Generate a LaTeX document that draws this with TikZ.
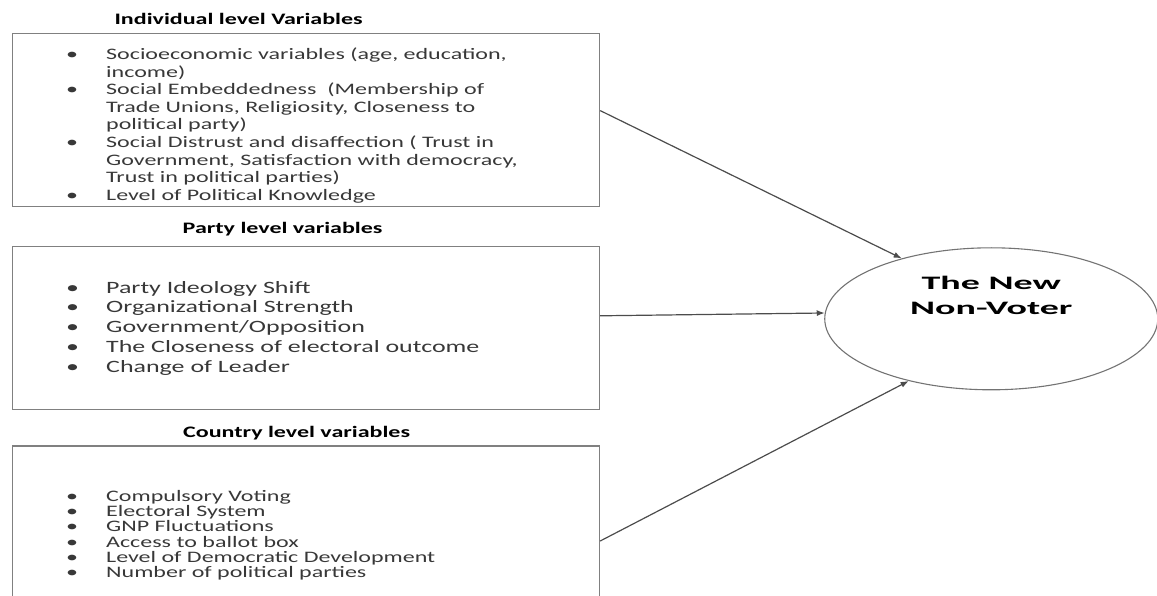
\documentclass[tikz,border=0pt]{standalone}
\usepackage{fontspec}
\setmainfont{Carlito}[FakeStretch=1.5]
\newfontfamily\ovalfont{Carlito}[FakeStretch=2.0]
\usetikzlibrary{arrows.meta,positioning,shapes.geometric}
\newcommand{\itembul}{\makebox[40pt][l]{\textbullet}}
\newcommand{\itemcont}{\hspace*{40pt}}

\begin{document}
\begin{tikzpicture}[
  x=1pt, y=1pt,
  box/.style={draw=black!50, line width=1.2pt, minimum width=587pt, inner sep=0pt},
  head/.style={font=\fontsize{16}{18}\selectfont\bfseries, inner sep=0pt},
  items/.style={align=left, inner sep=0pt, text=black!78, font=\fontsize{16}{17.6}\selectfont},
  oval/.style={ellipse, draw=black!55, line width=1.1pt, minimum width=333pt, minimum height=142pt,
    inner sep=0pt, align=center, text depth=47.5pt, font=\ovalfont\bfseries\fontsize{19}{25}\selectfont},
  arrow/.style={-{Latex[length=8pt,width=6pt]}, line width=1.2pt, black!70}
]
\useasboundingbox (0,0) rectangle (1157,-596);

% the three groups of variables
\node[box, minimum height=173pt, anchor=north west] (indiv) at (12,-33) {};
\node[box, minimum height=163pt, below=39pt of indiv] (party) {};
\node[box, minimum height=190pt, below=35pt of party] (country) {};

\node[head, above=8pt of indiv.north, xshift=-67.5pt] (indivhd) {Individual level Variables};
\node[head, above=10pt of party.north, xshift=-23.5pt] (partyhd) {Party level variables};
\node[head, above=5pt of country.north, xshift=-9.5pt] (countryhd) {Country level variables};

\node[items, below right=14.7pt and 54pt of indiv.north west] (indivlist) {%
  \itembul Socioeconomic variables (age, education,\\
  \itemcont income)\\
  \itembul Social Embeddedness\ \ (Membership of\\
  \itemcont Trade Unions, Religiosity, Closeness to\\
  \itemcont political party)\\
  \itembul Social Distrust and disaffection ( Trust in\\
  \itemcont Government, Satisfaction with democracy,\\
  \itemcont Trust in political parties)\\
  \itembul Level of Political Knowledge};
\node[items, font=\fontsize{17.3}{19.75}\selectfont, below right=34.8pt and 54pt of party.north west] (partylist) {%
  \itembul Party Ideology Shift\\
  \itembul Organizational Strength\\
  \itembul Government/Opposition\\
  \itembul The Closeness of electoral outcome\\
  \itembul Change of Leader};
\node[items, font=\fontsize{16}{15.2}\selectfont, below right=44.7pt and 54pt of country.north west] (countrylist) {%
  \itembul Compulsory Voting\\
  \itembul Electoral System\\
  \itembul GNP Fluctuations\\
  \itembul Access to ballot box\\
  \itembul Level of Democratic Development\\
  \itembul Number of political parties};

% outcome
\node[oval, right=224pt of party.east, yshift=9.5pt] (voter) {The New\\Non-Voter};

\draw[arrow] ([yshift=9.5pt]indiv.east) -- (voter.146);
\draw[arrow] ([yshift=12.5pt]party.east) -- (voter.178);
\draw[arrow] (country.east) -- (voter.217);
\end{tikzpicture}
\end{document}
